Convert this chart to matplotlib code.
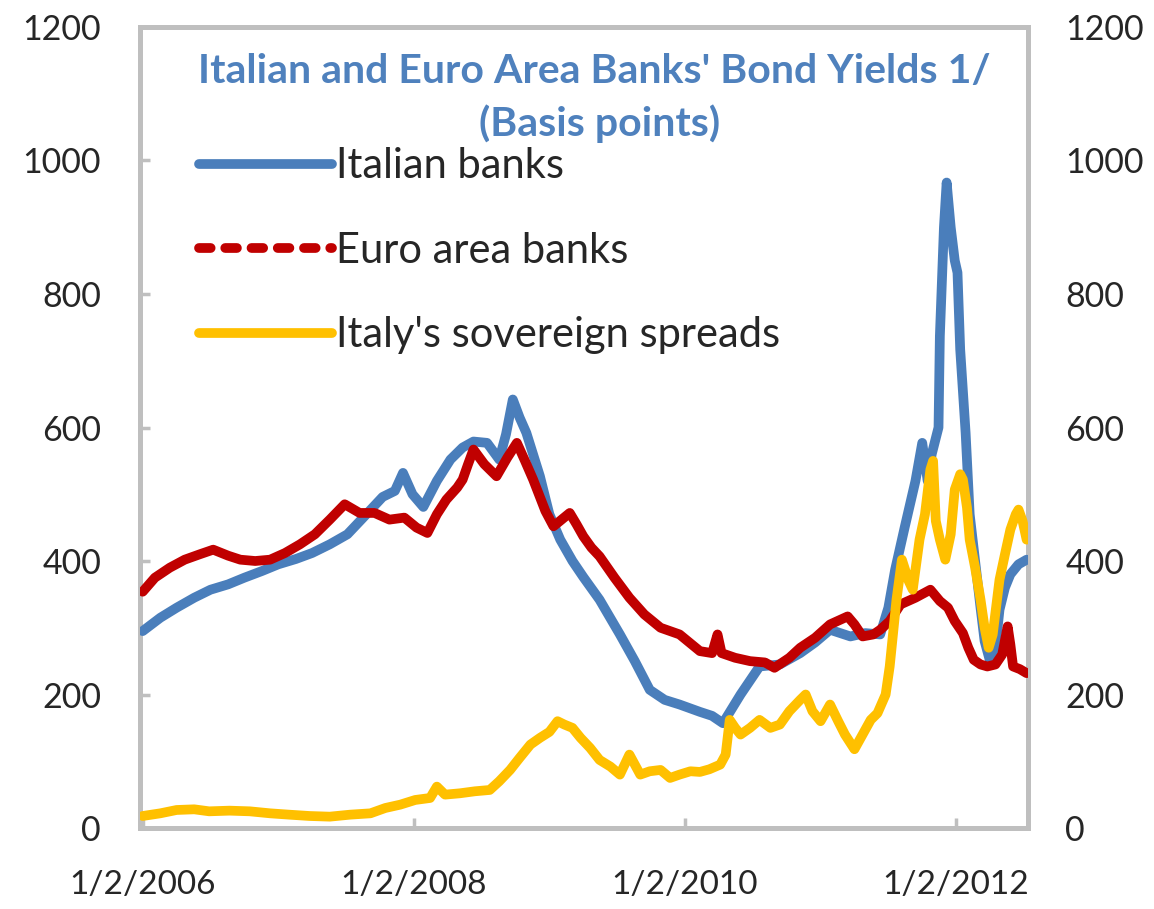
import numpy as np
import matplotlib
matplotlib.use("Agg")
import matplotlib.pyplot as plt
from matplotlib.lines import Line2D

plt.rcParams['font.family'] = ['Lato', 'DejaVu Sans']

# 数据 (时间为小数年份, 单位: 基点)
t_italian = [2006.00, 2006.13, 2006.25, 2006.38, 2006.50, 2006.63, 2006.75, 2006.88,
             2007.00, 2007.13, 2007.25, 2007.38, 2007.51, 2007.65, 2007.77, 2007.86,
             2007.92, 2007.99, 2008.07, 2008.17, 2008.27, 2008.36, 2008.44, 2008.54,
             2008.63, 2008.68, 2008.73, 2008.78, 2008.83, 2008.93, 2009.00, 2009.08,
             2009.17, 2009.25, 2009.37, 2009.52, 2009.63, 2009.74, 2009.85, 2009.96,
             2010.11, 2010.20, 2010.28, 2010.41, 2010.55, 2010.70, 2010.85, 2010.96,
             2011.07, 2011.22, 2011.33, 2011.44, 2011.50, 2011.55, 2011.62, 2011.70,
             2011.75, 2011.79, 2011.82, 2011.87, 2011.88, 2011.91, 2011.93, 2011.96,
             2011.99, 2012.01, 2012.03, 2012.07, 2012.10, 2012.14, 2012.18, 2012.21,
             2012.25, 2012.29, 2012.32, 2012.36, 2012.40, 2012.46, 2012.52]
italian_banks = [295, 315, 330, 345, 357, 365, 375, 385,
                 395, 403, 412, 425, 440, 470, 496, 505,
                 532, 500, 481, 520, 552, 570, 579, 577,
                 552, 590, 642, 615, 592, 527, 470, 432,
                 400, 376, 342, 290, 250, 207, 192, 185,
                 174, 168, 157, 200, 242, 245, 262, 278,
                 297, 287, 292, 290, 330, 387, 450, 520,
                 577, 520, 560, 600, 737, 900, 967, 900,
                 850, 832, 717, 592, 470, 400, 330, 280,
                 250, 270, 327, 360, 380, 395, 402]

t_euro = [2006.00, 2006.09, 2006.20, 2006.31, 2006.42, 2006.52, 2006.63, 2006.72,
          2006.83, 2006.94, 2007.05, 2007.16, 2007.27, 2007.38, 2007.49, 2007.60,
          2007.71, 2007.82, 2007.93, 2008.02, 2008.10, 2008.17, 2008.24, 2008.32,
          2008.36, 2008.40, 2008.44, 2008.52, 2008.61, 2008.69, 2008.76, 2008.82,
          2008.88, 2008.97, 2009.03, 2009.09, 2009.15, 2009.20, 2009.25, 2009.31,
          2009.37, 2009.48, 2009.59, 2009.70, 2009.82, 2009.96, 2010.11, 2010.20,
          2010.24, 2010.27, 2010.37, 2010.48, 2010.59, 2010.66, 2010.77, 2010.85,
          2010.96, 2011.07, 2011.20, 2011.25, 2011.31, 2011.39, 2011.44, 2011.51,
          2011.59, 2011.70, 2011.81, 2011.88, 2011.94, 2011.99, 2012.05, 2012.09,
          2012.13, 2012.18, 2012.23, 2012.29, 2012.34, 2012.38, 2012.40, 2012.42,
          2012.47, 2012.52]
euro_banks = [354, 375, 390, 402, 410, 417, 408, 402,
              400, 402, 412, 425, 440, 462, 485, 472,
              472, 462, 465, 450, 442, 470, 492, 510,
              522, 545, 567, 545, 527, 555, 577, 550,
              522, 475, 452, 462, 472, 455, 437, 420,
              407, 375, 345, 320, 300, 290, 265, 262,
              290, 262, 255, 250, 248, 240, 255, 270,
              285, 305, 317, 305, 287, 290, 297, 310,
              335, 345, 357, 340, 330, 310, 292, 270,
              252, 245, 242, 245, 260, 302, 275, 242,
              238, 232]

t_sovereign = [2006.00, 2006.13, 2006.25, 2006.38, 2006.49, 2006.64, 2006.79, 2006.94,
               2007.08, 2007.23, 2007.38, 2007.53, 2007.68, 2007.79, 2007.90, 2008.01,
               2008.12, 2008.17, 2008.23, 2008.34, 2008.45, 2008.56, 2008.63, 2008.71,
               2008.78, 2008.86, 2008.93, 2009.00, 2009.06, 2009.11, 2009.17, 2009.23,
               2009.30, 2009.37, 2009.45, 2009.52, 2009.59, 2009.67, 2009.74, 2009.82,
               2009.89, 2009.96, 2010.04, 2010.11, 2010.18, 2010.26, 2010.30, 2010.33,
               2010.37, 2010.41, 2010.48, 2010.55, 2010.63, 2010.70, 2010.77, 2010.85,
               2010.89, 2010.94, 2011.00, 2011.07, 2011.13, 2011.18, 2011.25, 2011.31,
               2011.37, 2011.42, 2011.48, 2011.51, 2011.56, 2011.60, 2011.65, 2011.68,
               2011.73, 2011.77, 2011.81, 2011.83, 2011.85, 2011.88, 2011.92, 2011.96,
               2011.99, 2012.03, 2012.05, 2012.08, 2012.10, 2012.14, 2012.18, 2012.21,
               2012.24, 2012.27, 2012.32, 2012.36, 2012.40, 2012.44, 2012.46, 2012.49,
               2012.52]
sovereign_spreads = [18, 22, 27, 28, 25, 26, 25, 22,
                     20, 18, 17, 20, 22, 30, 35, 42,
                     45, 62, 50, 52, 55, 57, 70, 87,
                     105, 125, 135, 144, 160, 155, 150, 135,
                     120, 102, 92, 80, 110, 80, 85, 87,
                     75, 80, 85, 84, 88, 95, 110, 162,
                     150, 140, 150, 162, 150, 155, 175, 192,
                     200, 175, 160, 185, 160, 140, 118, 140,
                     162, 172, 200, 242, 342, 402, 370, 357,
                     432, 470, 537, 550, 460, 432, 402, 440,
                     507, 530, 522, 480, 432, 390, 342, 300,
                     270, 290, 372, 410, 447, 470, 477, 460,
                     432]

x_ticks = [2006, 2008, 2010, 2012]
x_tick_labels = ['1/2/2006', '1/2/2008', '1/2/2010', '1/2/2012']
y_ticks = [0, 200, 400, 600, 800, 1000, 1200]

c_blue = '#4A7EBB'
c_title = '#4F81BD'
c_red = '#C00000'
c_yellow = '#FFC000'
c_frame = '#BFBFBF'
c_text = '#262626'

fig = plt.figure(figsize=(11.54, 9.09), dpi=100)
ax = fig.add_axes([0.1213, 0.0891, 0.7695, 0.8812])

lw = 7.0
kw = dict(solid_capstyle='round', solid_joinstyle='round')
ax.plot(t_italian, italian_banks, color=c_blue, lw=lw, zorder=3, **kw)
ax.plot(t_euro, euro_banks, color=c_red, lw=lw, zorder=4, **kw)
ax.plot(t_sovereign, sovereign_spreads, color=c_yellow, lw=lw, zorder=5, **kw)

ax.set_xlim(2005.98, 2012.53)
ax.set_ylim(0, 1200)

for s in ax.spines.values():
    s.set_color(c_frame)
    s.set_linewidth(3.6)

ax.set_xticks(x_ticks)
ax.set_xticklabels(x_tick_labels)
ax.set_yticks(y_ticks)
ax.tick_params(axis='both', direction='in', color=c_frame, width=2.5, length=7,
               labelcolor=c_text)
ax.tick_params(axis='y', pad=28, right=True, labelsize=24.5)
ax.tick_params(axis='x', pad=30, labelsize=24)

ax2 = ax.twinx()
ax2.set_ylim(0, 1200)
ax2.set_yticks(y_ticks)
ax2.tick_params(axis='y', length=0, labelsize=24.5, labelcolor=c_text, pad=27)
for s in ax2.spines.values():
    s.set_visible(False)

# 标题
ax.text(0.512, 0.944, "Italian and Euro Area Banks' Bond Yields 1/",
        transform=ax.transAxes, ha='center', va='center', fontsize=29.5,
        fontweight='bold', color=c_title, zorder=6)
ax.text(0.518, 0.879, "(Basis points)",
        transform=ax.transAxes, ha='center', va='center', fontsize=29.5,
        fontweight='bold', color=c_title, zorder=6)

# 图例
handles = [
    Line2D([], [], color=c_blue, lw=lw, solid_capstyle='round'),
    Line2D([], [], color=c_red, lw=lw, linestyle=(0, (1.2, 1.5)), dash_capstyle='round'),
    Line2D([], [], color=c_yellow, lw=lw, solid_capstyle='round'),
]
labels = ['Italian banks', 'Euro area banks', "Italy's sovereign spreads"]
ax.legend(handles, labels, loc='upper left', bbox_to_anchor=(0.066, 0.85),
          frameon=False, fontsize=30, handlelength=3.2, handletextpad=0.1,
          labelspacing=1.12, borderpad=0, borderaxespad=0, labelcolor=c_text)

fig.savefig('out.png', dpi=100)
